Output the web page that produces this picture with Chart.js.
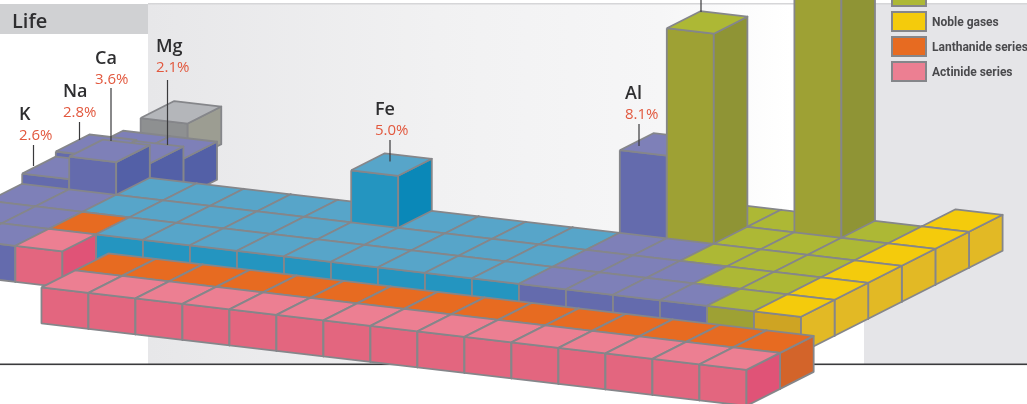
<!DOCTYPE html>
<html>
<head>
<meta charset="utf-8">
<style>
body { margin: 0; background: #fff; }
canvas { display: block; }
</style>
<script src="https://cdn.jsdelivr.net/npm/chart.js@4"></script>
</head>
<body>
<canvas id="table" width="1027" height="404"></canvas>
<script>
// one letter per group: p metal, b transition, g nonmetal, y noble, o lanthanide, a actinide
const period1 = ". . . . . . . . . . . . . . . . . y".split(" ")
const period2 = "p p . . . . . . . . . . g g g g g y".split(" ")
const period3 = "p p . . . . . . . . . . p g g g g y".split(" ")
const period4 = "p p b b b b b b b b b b p p g g g y".split(" ")
const period5 = "p p b b b b b b b b b b p p p g g y".split(" ")
const period6 = "p p o b b b b b b b b b p p p p g y".split(" ")
const period7 = "p p a".split(" ")
const periods = [period1, period2, period3, period4, period5, period6, period7]

const seriesCount = 15

// raised elements
const barNames   = ["Li", "Be", "K", "Na", "Ca", "Mg", "Fe", "Al", "Si", "O"]
const barPeriods = [2, 2, 4, 3, 4, 3, 4, 3, 3, 2]
const barGroups  = [1, 2, 1, 1, 2, 2, 8, 13, 14, 16]
const barHeights = [0.2, 0.2, 1.0, 1.5, 3.2, 1.4, 5.1, 8.1, 20.6, 32]

// labelled values
const labelNames  = ["K", "Na", "Ca", "Mg", "Fe", "Al"]
const labelValues = [2.6, 2.8, 3.6, 2.1, 5.0, 8.1]

const legendNames = ["", "Noble gases", "Lanthanide series", "Actinide series"]
const legendKeys  = ["g", "y", "o", "a"]

// layout
const originX = 96, originY = 234.3
const colDx = 47, colDy = 5.5, rowDx = 33.6, rowDy = 17
const unit = 10.2, depth = 36
const labelX     = [19, 63, 95, 156, 375, 625]
const labelY     = [115, 92, 59, 47, 110, 94]
const leaderX    = [33.5, 79.5, 111, 167.5, 390, 639, 701]
const leaderTop  = [145, 122, 88, 80, 140, 124, -4]
const leaderEnd  = [166, 140, 141, 145, 161.5, 146, 12]

const colours = {
    p: { top: "#7e80b8", front: "#646bad", right: "#5360a7" },
    b: { top: "#57a5c9", front: "#2495c0", right: "#0a88b8" },
    g: { top: "#adb835", front: "#9ea134", right: "#8f9435" },
    y: { top: "#f4cb0c", front: "#cea423", right: "#e2b925" },
    o: { top: "#e76b21", front: "#e76b21", right: "#d3642a" },
    a: { top: "#ec7f92", front: "#e3667f", right: "#e05377" },
    n: { top: "#b4b6ba", front: "#8e9091", right: "#9c9d92" }
}

function project(c, r, z) {
    return {
        x: originX + (c - 3) * colDx + r * rowDx,
        y: originY + (c - 3) * colDy - r * rowDy - z
    }
}

function face(points, colour) {
    return {
        data: [...points, points[0]],
        showLine: true,
        fill: "shape",
        backgroundColor: colour,
        borderColor: "#85868a",
        borderWidth: 1.8,
        borderJoinStyle: "round",
        pointRadius: 0,
        tension: 0,
        clip: false
    }
}

function box(cell) {
    const { c, r, z, d, key } = cell
    const col = colours[key]
    const a = project(c, r, z), b = project(c + 1, r, z)
    const e = project(c + 1, r + 1, z), f = project(c, r + 1, z)
    const a0 = project(c, r, -d), b0 = project(c + 1, r, -d), e0 = project(c + 1, r + 1, -d)
    return [
        face([a, b, b0, a0], col.front),
        face([b, e, e0, b0], col.right),
        face([a, b, e, f], col.top)
    ]
}

let cells = []
periods.forEach((row, p) => {
    row.forEach((key, g) => {
        if (key === ".") return
        const i = barNames.findIndex((n, k) => barPeriods[k] === p + 1 && barGroups[k] === g + 1)
        cells.push({ c: g, r: 5 - p, z: i >= 0 ? barHeights[i] * unit : 0, d: depth, key })
    })
})
// grey hydrogen block sits a little off the grid and has no base under it
cells.push({ c: 1.09, r: 4.001, z: 3.7 * unit, d: 0, key: "n" })
// lanthanide and actinide strip in front
for (let i = 0; i < seriesCount; i++) {
    cells.push({ c: 3.87 + i, r: -1.84, z: 0, d: depth, key: "o" })
    cells.push({ c: 3.87 + i, r: -2.84, z: 0, d: depth, key: "a" })
}
cells.sort((m, n) => n.r - m.r || m.c - n.c)

const datasets = []
cells.forEach(cell => datasets.push(...box(cell)))
leaderX.forEach((x, i) => {
    datasets.push({
        data: [{ x, y: leaderTop[i] }, { x, y: leaderEnd[i] }],
        showLine: true,
        borderColor: "#3a3a3c",
        borderWidth: 1.2,
        pointRadius: 0,
        clip: false
    })
})
// chart.js paints the first dataset last
datasets.reverse()

const backdrop = {
    id: "backdrop",
    beforeDraw(chart) {
        const ctx = chart.ctx
        ctx.save()
        ctx.fillStyle = "#ffffff"
        ctx.fillRect(0, 0, 1027, 404)
        const grad = ctx.createLinearGradient(148, 0, 790, 0)
        grad.addColorStop(0, "#e7e7e9")
        grad.addColorStop(0.45, "#f1f1f2")
        grad.addColorStop(0.8, "#f6f6f7")
        grad.addColorStop(1, "#ffffff")
        ctx.fillStyle = grad
        ctx.fillRect(148, 4, 716, 360)
        ctx.fillStyle = "#e5e5e8"
        ctx.fillRect(864, 4, 163, 360)
        ctx.fillStyle = "#d6d6d8"
        ctx.fillRect(148, 3, 879, 1.5)
        ctx.fillStyle = "#d0d1d3"
        ctx.fillRect(0, 4, 148, 30)
        ctx.fillStyle = "#3a3a3c"
        ctx.fillRect(0, 363.5, 1027, 1.6)
        ctx.fillStyle = "#2e2e30"
        ctx.font = "600 20px 'Open Sans'"
        ctx.textBaseline = "middle"
        ctx.fillText("Life", 12, 22)
        ctx.restore()
    }
}

const annotations = {
    id: "annotations",
    afterDraw(chart) {
        const ctx = chart.ctx
        ctx.save()
        ctx.textBaseline = "middle"
        labelNames.forEach((name, i) => {
            ctx.fillStyle = "#2e2e30"
            ctx.font = "600 18px 'Open Sans'"
            ctx.fillText(name, labelX[i], labelY[i])
            ctx.fillStyle = "#e2583e"
            ctx.font = "15px 'Open Sans'"
            ctx.fillText(labelValues[i].toFixed(1) + "%", labelX[i], labelY[i] + 20.5)
        })
        legendKeys.forEach((key, i) => {
            const top = -13 + i * 25
            ctx.fillStyle = colours[key].top
            ctx.strokeStyle = "#85868a"
            ctx.lineWidth = 2
            ctx.fillRect(892, top, 34, 19)
            ctx.strokeRect(892, top, 34, 19)
            ctx.fillStyle = "#4a4a4d"
            ctx.font = "bold 12px Roboto"
            ctx.fillText(legendNames[i], 932, top + 11)
        })
        ctx.restore()
    }
}

new Chart(document.getElementById("table"), {
    type: "scatter",
    data: { datasets },
    plugins: [backdrop, annotations],
    options: {
        responsive: false,
        animation: false,
        events: [],
        layout: { padding: 0 },
        scales: {
            x: { type: "linear", min: 0, max: 1027, display: false },
            y: { type: "linear", min: 0, max: 404, reverse: true, display: false }
        },
        plugins: {
            legend: { display: false },
            tooltip: { enabled: false },
            filler: { propagate: false }
        }
    }
})
</script>
</body>
</html>
